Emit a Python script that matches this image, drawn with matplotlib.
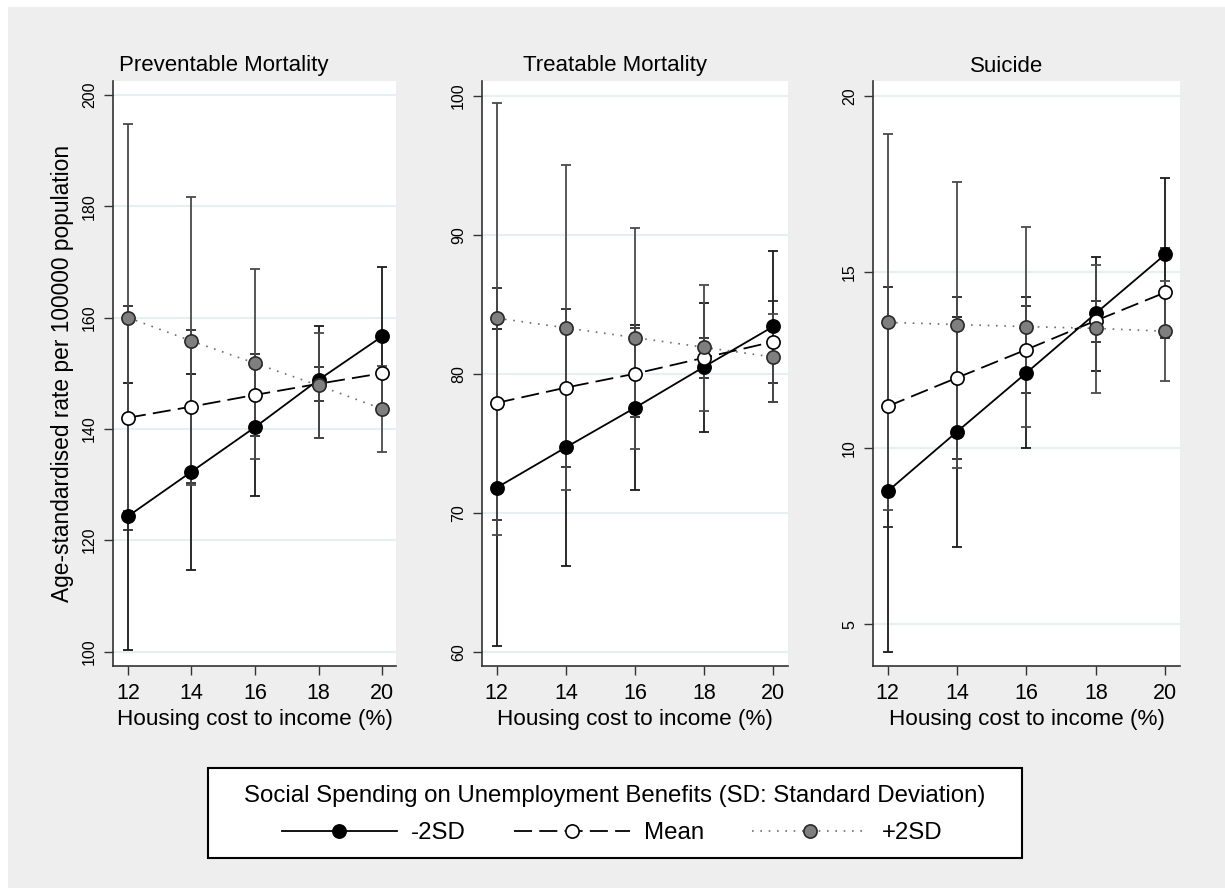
import matplotlib
matplotlib.use("Agg")
import matplotlib.pyplot as plt
from matplotlib.patches import Rectangle
from matplotlib.lines import Line2D

plt.rcParams['font.family'] = ['Liberation Sans', 'DejaVu Sans']

# ---------------- data ----------------
housing = [12, 14, 16, 18, 20]
panel_titles = ["Preventable Mortality", "Treatable Mortality", "Suicide"]
series_labels = ["-2SD", "Mean", "+2SD"]

# Preventable mortality
prev_neg2 = [124.3, 132.3, 140.3, 148.8, 156.6]
prev_neg2_lo = [100.2, 114.6, 128.0, 138.3, 144.1]
prev_neg2_hi = [148.3, 149.8, 152.6, 158.5, 169.1]
prev_mean = [142.0, 144.0, 146.1, 148.1, 150.0]
prev_mean_lo = [121.9, 130.2, 138.8, 145.0, 144.0]
prev_mean_hi = [162.1, 157.8, 153.4, 151.1, 156.0]
prev_pos2 = [160.0, 155.8, 151.8, 147.8, 143.6]
prev_pos2_lo = [125.2, 129.9, 134.6, 138.3, 135.9]
prev_pos2_hi = [194.8, 181.7, 168.8, 157.2, 151.3]

# Treatable mortality
treat_neg2 = [71.8, 74.7, 77.55, 80.5, 83.4]
treat_neg2_lo = [60.4, 66.2, 71.6, 75.8, 78.0]
treat_neg2_hi = [83.2, 83.2, 83.5, 85.1, 88.8]
treat_mean = [77.9, 79.0, 80.0, 81.15, 82.3]
treat_mean_lo = [69.5, 73.3, 76.9, 79.7, 79.3]
treat_mean_hi = [86.2, 84.65, 83.3, 82.6, 85.2]
treat_pos2 = [84.0, 83.3, 82.6, 81.9, 81.2]
treat_pos2_lo = [68.4, 71.6, 74.6, 77.3, 78.0]
treat_pos2_hi = [99.5, 95.0, 90.5, 86.4, 84.3]

# Suicide
sui_neg2 = [8.78, 10.47, 12.14, 13.83, 15.5]
sui_neg2_lo = [4.22, 7.2, 10.0, 12.2, 13.32]
sui_neg2_hi = [13.43, 13.73, 14.28, 15.42, 17.68]
sui_mean = [11.19, 12.0, 12.8, 13.62, 14.42]
sui_mean_lo = [7.77, 9.69, 11.56, 13.02, 13.13]
sui_mean_hi = [14.58, 14.3, 14.04, 14.17, 15.67]
sui_pos2 = [13.57, 13.51, 13.45, 13.40, 13.32]
sui_pos2_lo = [8.24, 9.44, 10.61, 11.58, 11.9]
sui_pos2_hi = [18.91, 17.56, 16.28, 15.2, 14.74]

yticks_list = [[100, 120, 140, 160, 180, 200], [60, 70, 80, 90, 100], [5, 10, 15, 20]]
ylims = [(97.4, 202.5), (58.97, 101.06), (3.82, 20.42)]
xlims = [(11.53, 20.44), (11.575, 20.425), (11.576, 20.425)]

panels = [
    [(prev_neg2, prev_neg2_lo, prev_neg2_hi), (prev_mean, prev_mean_lo, prev_mean_hi), (prev_pos2, prev_pos2_lo, prev_pos2_hi)],
    [(treat_neg2, treat_neg2_lo, treat_neg2_hi), (treat_mean, treat_mean_lo, treat_mean_hi), (treat_pos2, treat_pos2_lo, treat_pos2_hi)],
    [(sui_neg2, sui_neg2_lo, sui_neg2_hi), (sui_mean, sui_mean_lo, sui_mean_hi), (sui_pos2, sui_pos2_lo, sui_pos2_hi)],
]

# ---------------- styles ----------------
styles = [
    dict(color='black', ls='-', lw=1.3, mfc='black', mec='black', ecol='#1a1a1a'),
    dict(color='black', ls=(0, (10, 4)), lw=1.3, mfc='white', mec='black', ecol='#2a2a2a'),
    dict(color='#6e6e6e', ls=(0, (1, 4)), lw=1.2, mfc='#7f7f7f', mec='#2a2a2a', ecol='#4a4a4a'),
]

W, H = 1225, 888
fig = plt.figure(figsize=(W / 100, H / 100), dpi=100, facecolor='white')
fig.patches.append(Rectangle((8 / W, 0), 1 - 8 / W, (H - 7) / H, transform=fig.transFigure,
                             facecolor='#eeeeee', edgecolor='none', zorder=-10))

ax_px = [(113, 396), (482, 788), (873, 1180)]
top_px, bot_px = 81, 666
title_x = [224, 615, 1007]

gridcol = '#e6f0f1'
for i, (x0, x1) in enumerate(ax_px):
    ax = fig.add_axes([x0 / W, (H - bot_px) / H, (x1 - x0) / W, (bot_px - top_px) / H])
    ax.set_facecolor('white')
    for (vals, lo, hi), st in zip(panels[i], styles):
        yerr = [[v - l for v, l in zip(vals, lo)], [h - v for v, h in zip(vals, hi)]]
        ax.errorbar(housing, vals, yerr=yerr, fmt='none', ecolor=st['ecol'], elinewidth=1.3,
                    capsize=3.8, capthick=1.3, zorder=2)
    for (vals, lo, hi), st in zip(panels[i], styles):
        ax.plot(housing, vals, color=st['color'], ls=st['ls'], lw=st['lw'], zorder=3)
    for (vals, lo, hi), st in zip(panels[i], styles):
        ax.plot(housing, vals, ls='none', marker='o', ms=9.5, mfc=st['mfc'], mec=st['mec'],
                mew=1.2, zorder=4)
    ax.set_xlim(*xlims[i])
    ax.set_ylim(*ylims[i])
    ax.set_xticks(housing)
    ax.set_yticks(yticks_list[i])
    ax.grid(axis='y', color=gridcol, lw=1.5, zorder=0)
    ax.set_axisbelow(True)
    for s in ['top', 'right']:
        ax.spines[s].set_visible(False)
    for s in ['left', 'bottom']:
        ax.spines[s].set_color('#333333')
        ax.spines[s].set_linewidth(1.2)
    ax.tick_params(axis='x', length=6.5, width=1.0, color='#333333', labelsize=15.5, pad=6)
    ax.tick_params(axis='y', length=6.5, width=1.0, color='#333333', labelsize=11.5, pad=5,
                   labelrotation=90)
    for lab in ax.get_yticklabels():
        lab.set_va('center')
    ax.set_xlabel("Housing cost to income (%)", fontsize=16.2, labelpad=3)
    if i == 0:
        ax.set_ylabel("Age-standardised rate per 100000 population", fontsize=16.4, labelpad=6)
    fig.text(title_x[i] / W, 1 - 66 / H, panel_titles[i], ha='center', va='center', fontsize=16)

# ---------------- legend ----------------
fig.patches.append(Rectangle((208 / W, (H - 858) / H), (1022 - 208) / W, (858 - 768) / H,
                             transform=fig.transFigure, facecolor='white', edgecolor='black',
                             lw=1.5, zorder=5))
fig.text(615 / W, 1 - 796 / H, "Social Spending on Unemployment Benefits (SD: Standard Deviation)",
         ha='center', va='center', fontsize=17.3, zorder=6)
handles = []
for st, lab in zip(styles, series_labels):
    handles.append(Line2D([0], [0], color=st['color'], ls=st['ls'], lw=st['lw'], marker='o', ms=9.5,
                          mfc=st['mfc'], mec=st['mec'], mew=1.2, label=lab))
leg = fig.legend(handles=handles, loc='center', bbox_to_anchor=(612 / W, 1 - 833 / H), ncol=3,
                 frameon=False, fontsize=17.3, handlelength=4.8, handletextpad=0.6,
                 columnspacing=2.0, numpoints=1)
leg.set_zorder(7)

fig.savefig("out.png", dpi=100, facecolor=fig.get_facecolor())
